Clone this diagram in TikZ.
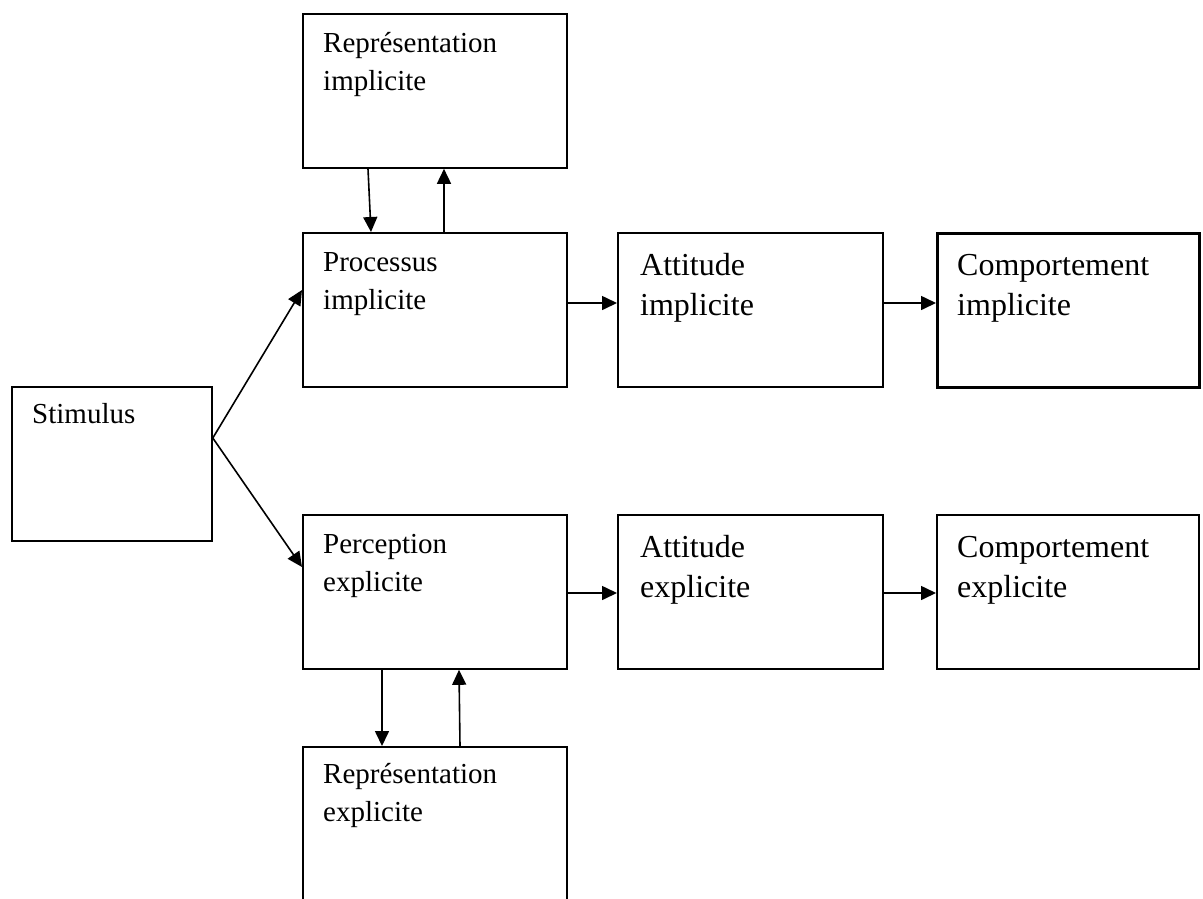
\documentclass[tikz,border=0pt]{standalone}
\usepackage{fontspec}
\setmainfont{Liberation Serif}
\usetikzlibrary{arrows.meta}

\tikzset{
  cadre/.style={draw, line width=1.8pt, inner sep=0pt, anchor=north west,
    minimum width=264pt, minimum height=154pt},
  fleche/.style={-{Triangle[length=15pt,width=14pt]}, line width=1.6pt},
  petit/.style={font=\fontsize{29}{38}\selectfont, align=left, inner sep=0pt, anchor=base west},
  grand/.style={font=\fontsize{32}{40}\selectfont, align=left, inner sep=0pt, anchor=base west},
}

\begin{document}
\begin{tikzpicture}[x=1pt,y=-1pt]
  \clip (0,0) rectangle (1203,898);
  % boites
  \node[cadre, minimum width=200pt] (stim) at (11,386) {};
  \node[cadre] (repimp) at (302,13) {};
  \node[cadre] (procimp) at (302,232) {};
  \node[cadre] (percexp) at (302,514) {};
  \node[cadre] (repexp) at (302,746) {};
  \node[cadre, minimum width=265pt] (attimp) at (617,232) {};
  \node[cadre, minimum width=265pt] (attexp) at (617,514) {};
  \node[cadre, minimum width=262pt, line width=2.6pt] (compimp) at (936,232) {};
  \node[cadre, minimum width=262pt] (compexp) at (936,514) {};
  % textes (ancre sur la derniere ligne)
  \node[petit] (stim-t) at ([shift={(21pt,-37pt)}]stim.north west) {Stimulus};
  \node[petit] (repimp-t) at ([shift={(21pt,-77pt)}]repimp.north west) {Représentation\\implicite};
  \node[petit] (procimp-t) at ([shift={(21pt,-77pt)}]procimp.north west) {Processus\\implicite};
  \node[petit] (percexp-t) at ([shift={(21pt,-77pt)}]percexp.north west) {Perception\\explicite};
  \node[petit] (repexp-t) at ([shift={(21pt,-75pt)}]repexp.north west) {Représentation\\explicite};
  \node[grand] (attimp-t) at ([shift={(23pt,-83pt)}]attimp.north west) {Attitude\\implicite};
  \node[grand] (attexp-t) at ([shift={(23pt,-83pt)}]attexp.north west) {Attitude\\explicite};
  \node[grand] (compimp-t) at ([shift={(21pt,-83pt)}]compimp.north west) {Comportement\\implicite};
  \node[grand] (compexp-t) at ([shift={(21pt,-83pt)}]compexp.north west) {Comportement\\explicite};
  % fleches
  \draw[fleche] ([yshift=-52pt]stim.north east) -- ([yshift=-58pt]procimp.north west);
  \draw[fleche] ([yshift=-52pt]stim.north east) -- ([yshift=-53pt]percexp.north west);
  \draw[fleche] ([xshift=66pt]repimp.south west) -- ([xshift=69pt]procimp.north west);
  \draw[fleche] ([xshift=142pt]procimp.north west) -- ([xshift=142pt]repimp.south west);
  \draw[fleche] ([xshift=80pt]percexp.south west) -- ([xshift=80pt]repexp.north west);
  \draw[fleche] ([xshift=158pt]repexp.north west) -- ([xshift=157pt]percexp.south west);
  \draw[fleche] ([yshift=-71pt]procimp.north east) -- ([yshift=-71pt]attimp.north west);
  \draw[fleche] ([yshift=-71pt]attimp.north east) -- ([yshift=-71pt]compimp.north west);
  \draw[fleche] ([yshift=-79pt]percexp.north east) -- ([yshift=-79pt]attexp.north west);
  \draw[fleche] ([yshift=-79pt]attexp.north east) -- ([yshift=-79pt]compexp.north west);
\end{tikzpicture}
\end{document}
